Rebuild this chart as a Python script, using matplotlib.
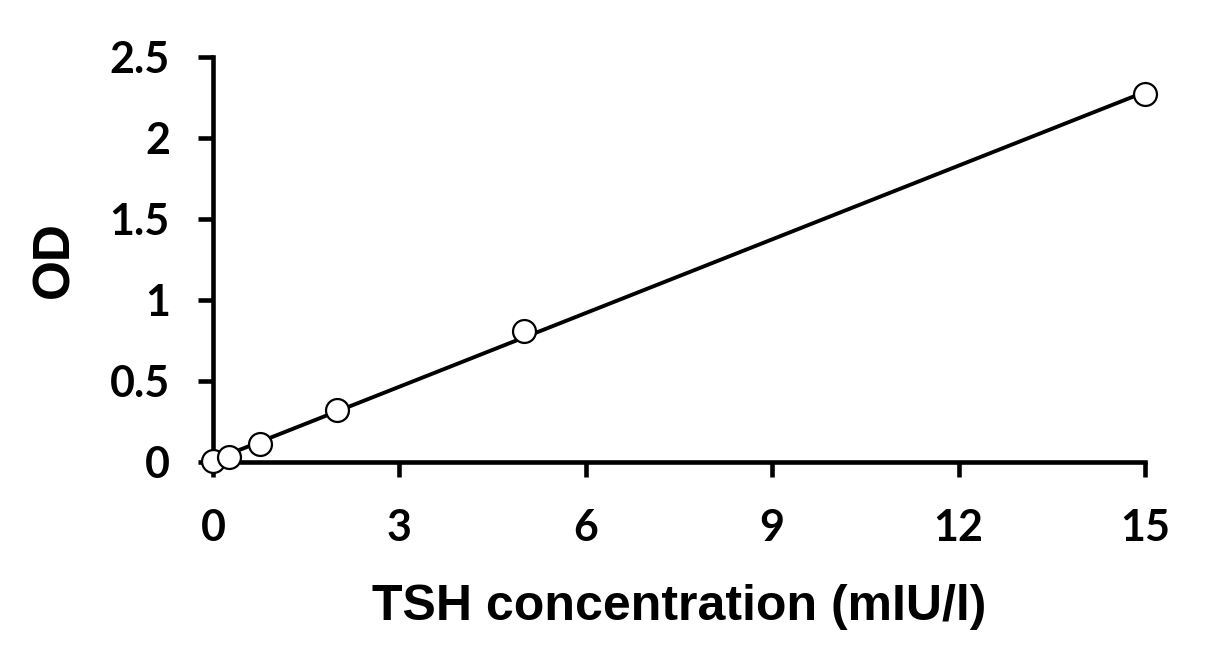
import numpy as np
import matplotlib.pyplot as plt

# Standard curve data
conc = [0, 0.25, 0.75, 2, 5, 15]
od = [0.006, 0.03, 0.11, 0.32, 0.81, 2.27]

x_ticks = [0, 3, 6, 9, 12, 15]
y_ticks = [0, 0.5, 1, 1.5, 2, 2.5]
y_labels = ['0', '0.5', '1', '1.5', '2', '2.5']

# Linear trendline
slope, intercept = np.polyfit(conc, od, 1)
fit_x = np.array([0, 15])
fit_y = slope * fit_x + intercept

plt.rcParams['font.family'] = ['Lato', 'DejaVu Sans']
plt.rcParams['font.weight'] = 'bold'

fig = plt.figure(figsize=(12.15, 6.68), dpi=100)
ax = fig.add_axes([0.1753, 0.3084, 0.7671, 0.6063])

ax.plot(fit_x, fit_y, color='black', linewidth=2.8, zorder=2)
ax.plot(conc, od, linestyle='none', marker='o', markersize=16.5,
        markerfacecolor='white', markeredgecolor='black', markeredgewidth=1.6,
        zorder=3, clip_on=False)

ax.set_xlim(0, 15)
ax.set_ylim(0, 2.5)
ax.set_xticks(x_ticks)
ax.set_yticks(y_ticks)
ax.set_yticklabels(y_labels)

for side in ['top', 'right']:
    ax.spines[side].set_visible(False)
for side in ['left', 'bottom']:
    ax.spines[side].set_linewidth(3.3)

ax.tick_params(axis='both', direction='out', length=11, width=3.3, labelsize=31)
ax.tick_params(axis='x', pad=22)
ax.tick_params(axis='y', pad=20)

label_font = ['Liberation Sans', 'DejaVu Sans']
ax.set_xlabel('TSH concentration (mIU/l)', fontsize=36, fontweight='bold',
              family=label_font, labelpad=26)
ax.set_ylabel('OD', fontsize=37, fontweight='bold', family=label_font, labelpad=22)

fig.savefig('out.png', dpi=100)
